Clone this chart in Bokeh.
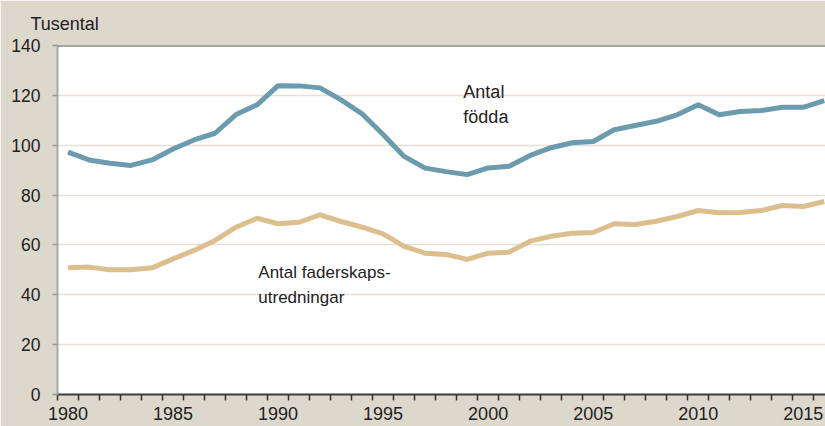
from bokeh.plotting import figure
from bokeh.models import Range1d, FixedTicker, Span, Title
from bokeh.core.properties import value
from bokeh.embed import file_html
from bokeh.resources import INLINE

years = list(range(1980, 2017))
births = [97.2, 94.1, 92.8, 91.9, 94.1, 98.5, 102.1, 104.8, 112.3, 116.2,
          123.9, 123.8, 123.0, 118.2, 112.6, 104.3, 95.5, 90.8, 89.4, 88.2,
          90.9, 91.6, 95.9, 99.0, 101.0, 101.5, 106.2, 107.9, 109.6, 112.2,
          116.2, 112.2, 113.5, 113.9, 115.2, 115.2, 117.9]
paternity = [50.8, 51.1, 50.0, 50.0, 50.8, 54.4, 57.8, 61.8, 67.1, 70.7,
             68.5, 69.1, 72.1, 69.4, 67.1, 64.4, 59.4, 56.7, 56.2, 54.2,
             56.7, 57.1, 61.5, 63.5, 64.7, 65.0, 68.5, 68.2, 69.5, 71.4,
             73.8, 72.9, 73.0, 73.8, 75.8, 75.4, 77.4]
y_ticks = [0, 20, 40, 60, 80, 100, 120, 140]
x_label_years = [1980, 1985, 1990, 1995, 2000, 2005, 2010, 2015]
label_births = "Antal\nfödda"
label_paternity = "Antal faderskaps-\nutredningar"
unit_label = "Tusental"

FONT = "Liberation Sans"
BG = "#ddd8cc"

p = figure(width=825, height=426, output_backend="svg", toolbar_location=None,
           x_range=Range1d(years[0] - 0.5, 2016.06), y_range=Range1d(0, 140),
           min_border_left=57, min_border_right=0, min_border_top=45, min_border_bottom=32)
p.background_fill_color = "white"
p.border_fill_color = BG
p.outline_line_color = None

p.title = Title(text=unit_label, align="left", offset=-27, vertical_align="top",
                text_font=FONT, text_font_size="18px", text_font_style="normal",
                text_color="#222222", standoff=19)

# x axis
xa = p.xaxis[0]
xa.ticker = FixedTicker(ticks=x_label_years,
                        minor_ticks=[y - 0.5 for y in years] + [years[-1] + 0.5])
xa.major_tick_line_color = None
xa.minor_tick_out = 6
xa.minor_tick_in = 0
xa.minor_tick_line_color = "#333333"
xa.minor_tick_line_width = 1.5
xa.axis_line_color = "#3c3c3c"
xa.axis_line_width = 2
xa.major_label_text_font = FONT
xa.major_label_text_font_size = "18px"
xa.major_label_text_color = "#222222"
xa.major_label_standoff = 6

# y axis
ya = p.yaxis[0]
ya.ticker = FixedTicker(ticks=y_ticks)
ya.minor_tick_line_color = None
ya.major_tick_out = 5
ya.major_tick_in = 0
ya.major_tick_line_color = "#999999"
ya.major_tick_line_width = 1.5
ya.axis_line_color = "#a8a8a8"
ya.axis_line_width = 2
ya.major_label_text_font = FONT
ya.major_label_text_font_size = "17.5px"
ya.major_label_text_color = "#222222"
ya.major_label_standoff = 12

p.xgrid.grid_line_color = None
p.ygrid.grid_line_color = "#e6e0d6"
p.ygrid.grid_line_width = 1.5

p.add_layout(Span(location=140, dimension="width", line_color="#505050", line_width=2))

p.line(years, births, line_color="#6b9bad", line_width=5, line_join="round")
p.line(years, paternity, line_color="#dcbf8e", line_width=5, line_join="round")

p.text(x=[1998.82], y=[125.3], text=[label_births], text_font=value(FONT),
       text_font_size="18px", text_baseline="top", text_color="#222222",
       text_line_height=1.25)
p.text(x=[1989.06], y=[52.6], text=[label_paternity], text_font=value(FONT),
       text_font_size="17px", text_baseline="top", text_color="#222222",
       text_line_height=1.3)

open("out.html", "w").write(file_html(p, INLINE))
